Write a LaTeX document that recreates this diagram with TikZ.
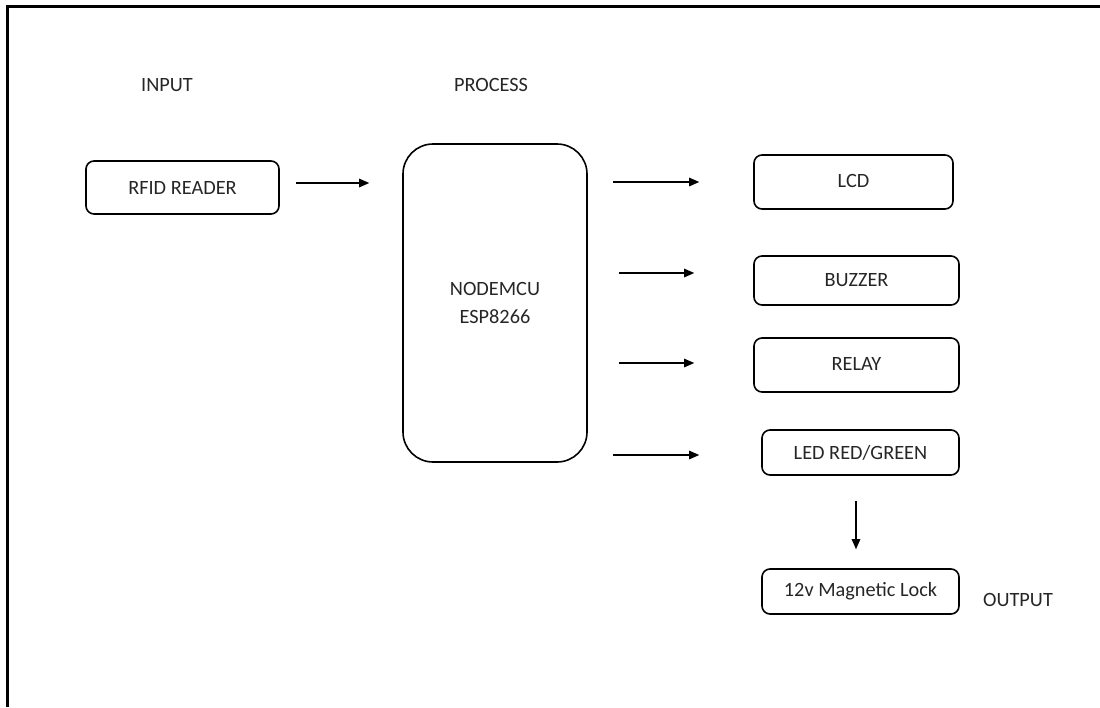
\documentclass[tikz,border=0pt]{standalone}
\usepackage{fontspec}
\setmainfont{Carlito}
\usetikzlibrary{arrows.meta}
\begin{document}
\begin{tikzpicture}[x=1pt,y=-1pt,
  blk/.style={draw,line width=1.6pt,rounded corners=8pt,inner sep=0pt,font=\fontsize{20.3}{24}\selectfont,text=black!85},
  lbl/.style={inner sep=0pt,font=\fontsize{20.3}{24}\selectfont,text=black!85},
  arr/.style={line width=1.1pt,-{Triangle[length=10pt,width=8.5pt]}}]
\useasboundingbox (0,0) rectangle (1100,707);
\draw[line width=3pt] (7,707) -- (7,6) -- (1100,6);
\node[lbl] (input) at (167,85) {INPUT};
\node[lbl] (process) at (491,85) {PROCESS};
\node[lbl] (output) at (1018,600) {OUTPUT};
\node[blk,minimum width=193pt,minimum height=53pt] (rfid) at (182.5,187.5) {RFID READER};
\node[blk,rounded corners=30pt,minimum width=184pt,minimum height=318pt,align=center] (mcu) at (495,303) {NODEMCU\\[4pt]ESP8266};
\node[blk,minimum width=199pt,minimum height=54pt] (lcd) at (853.5,182) {\raisebox{3pt}{LCD}};
\node[blk,minimum width=205pt,minimum height=49pt] (buz) at (856.5,280.5) {BUZZER};
\node[blk,minimum width=205pt,minimum height=54pt] (rel) at (856.5,365) {\raisebox{2pt}{RELAY}};
\node[blk,minimum width=197pt,minimum height=45pt] (led) at (860.5,452.5) {LED RED/GREEN};
\node[blk,minimum width=197pt,minimum height=45pt] (lock) at (860.5,591.5) {12v Magnetic Lock};
\draw[arr,shorten <=16pt,shorten >=33pt] ([yshift=4.5pt]rfid.east) -- ([yshift=4.5pt]rfid.east -| mcu.west);
\draw[arr,shorten <=25pt,shorten >=54pt] (mcu.east |- lcd.west) -- (lcd.west);
\draw[arr,shorten <=31pt,shorten >=59pt] ([yshift=7.5pt]mcu.east |- buz.west) -- ([yshift=7.5pt]buz.west);
\draw[arr,shorten <=31pt,shorten >=59pt] ([yshift=2pt]mcu.east |- rel.west) -- ([yshift=2pt]rel.west);
\draw[arr,shorten <=25pt,shorten >=62pt] ([yshift=-2.5pt]mcu.east |- led.west) -- ([yshift=-2.5pt]led.west);
\draw[arr,shorten <=25pt,shorten >=19pt] ([xshift=-4.5pt]led.south) -- ([xshift=-4.5pt]lock.north);
\end{tikzpicture}
\end{document}
